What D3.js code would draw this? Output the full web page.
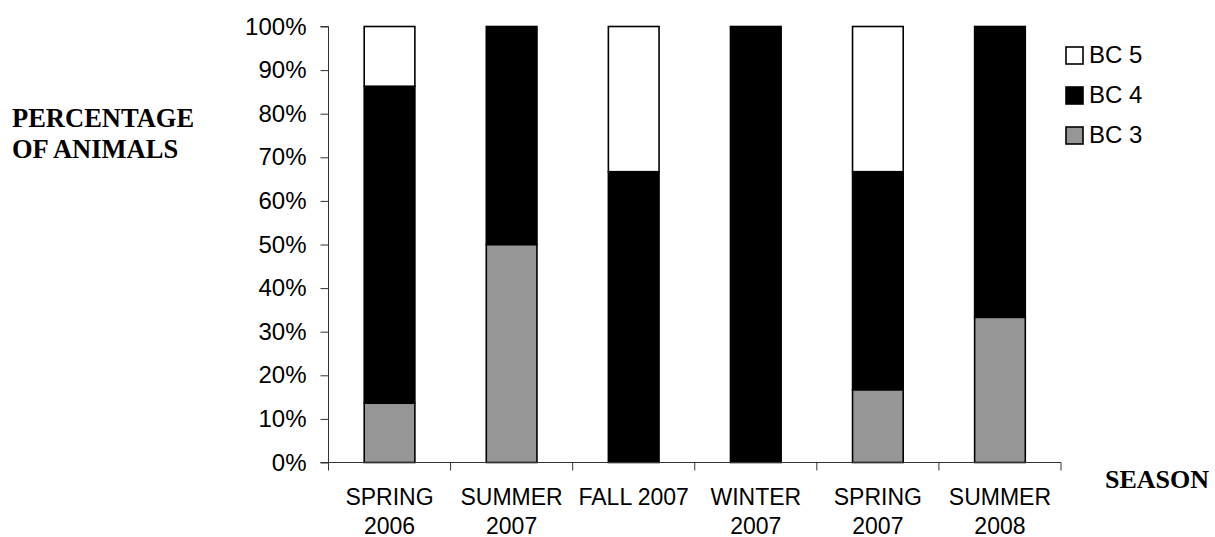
<!DOCTYPE html>
<html>
<head>
<meta charset="utf-8">
<script src="https://cdn.jsdelivr.net/npm/d3@7"></script>
<style>
  html, body { margin: 0; padding: 0; background: #fff; }
  svg { display: block; }
</style>
</head>
<body>
<svg id="chart" width="1215" height="537"></svg>
<script>
// Seasons (two-line labels) and body-condition shares in percent
const seasons = ["SPRING 2006", "SUMMER 2007", "FALL 2007", "WINTER 2007", "SPRING 2007", "SUMMER 2008"];
const seasonLines = [["SPRING", "2006"], ["SUMMER", "2007"], ["FALL 2007"], ["WINTER", "2007"], ["SPRING", "2007"], ["SUMMER", "2008"]];
const bc3 = [13.6, 50, 0, 0, 16.7, 33.3];
const bc4 = [72.7, 50, 66.7, 100, 50, 66.7];
const bc5 = [13.7, 0, 33.3, 0, 33.3, 0];
const seriesNames = ["BC 3", "BC 4", "BC 5"];
const seriesColors = ["#969696", "#000000", "#ffffff"];
const yTicks = [0, 10, 20, 30, 40, 50, 60, 70, 80, 90, 100];

const svg = d3.select("#chart");
const plotL = 328.5, plotR = 1061, plotT = 26.5, plotB = 462.5;

const x = d3.scaleBand().domain(seasons).range([plotL, plotR]).paddingInner(0).paddingOuter(0);
const y = d3.scaleLinear().domain([0, 100]).range([plotB, plotT]);

const rows = seasons.map((s, i) => ({ season: s, "BC 3": bc3[i], "BC 4": bc4[i], "BC 5": bc5[i] }));
const stacked = d3.stack().keys(seriesNames)(rows);

const barW = x.bandwidth() * 0.415;

// Stacked bars
stacked.forEach((layer, k) => {
  svg.append("g")
    .selectAll("rect")
    .data(layer.filter(d => d[1] - d[0] > 0))
    .join("rect")
    .attr("x", d => x(d.data.season) + (x.bandwidth() - barW) / 2)
    .attr("y", d => y(d[1]))
    .attr("width", barW)
    .attr("height", d => y(d[0]) - y(d[1]))
    .attr("fill", seriesColors[k])
    .attr("stroke", "#000")
    .attr("stroke-width", 1.6);
});

// Y axis
const yAxis = d3.axisLeft(y).tickValues(yTicks).tickFormat(d => d + "%").tickSize(8).tickPadding(14);
const gy = svg.append("g").attr("transform", `translate(${plotL},0)`).call(yAxis);
gy.select(".domain").attr("stroke", "#333").attr("d", `M-8,${plotT}H0V${plotB}H-8`);
gy.selectAll(".tick line").attr("stroke", "#333");
gy.selectAll(".tick text")
  .attr("font-family", "'Liberation Sans', Arial, sans-serif")
  .attr("font-size", 24).attr("fill", "#000");

// X axis (ticks at band boundaries)
const gx = svg.append("g").attr("transform", `translate(0,${plotB})`);
gx.append("line").attr("x1", plotL).attr("x2", plotR).attr("y1", 0).attr("y2", 0).attr("stroke", "#333");
const bounds = seasons.map(s => x(s)).concat([plotR]);
gx.selectAll("line.tk").data(bounds).join("line").attr("class", "tk")
  .attr("x1", d => d).attr("x2", d => d).attr("y1", 0).attr("y2", 8).attr("stroke", "#333");

// Category labels
const lab = gx.selectAll("text.cat").data(seasons).join("text").attr("class", "cat")
  .attr("x", d => x(d) + x.bandwidth() / 2)
  .attr("y", 42)
  .attr("text-anchor", "middle")
  .attr("font-family", "'Liberation Sans', Arial, sans-serif")
  .attr("font-size", 23).attr("fill", "#000");
lab.each(function (d, i) {
  const t = d3.select(this);
  seasonLines[i].forEach((ln, j) => {
    t.append("tspan").attr("x", x(d) + x.bandwidth() / 2).attr("dy", j === 0 ? 0 : 29).text(ln);
  });
});

// Axis titles
const titleFont = "'Liberation Serif', 'Times New Roman', serif";
svg.append("text").attr("x", 12).attr("y", 127)
  .attr("font-family", titleFont).attr("font-weight", "bold").attr("font-size", 26.5)
  .text("PERCENTAGE");
svg.append("text").attr("x", 12).attr("y", 158)
  .attr("font-family", titleFont).attr("font-weight", "bold").attr("font-size", 26.5)
  .text("OF ANIMALS");
svg.append("text").attr("x", 1105).attr("y", 488)
  .attr("font-family", titleFont).attr("font-weight", "bold").attr("font-size", 26)
  .text("SEASON");

// Legend (top series first)
const legendOrder = [2, 1, 0];
const lg = svg.append("g");
legendOrder.forEach((k, r) => {
  const cy = 55 + r * 40;
  lg.append("rect").attr("x", 1066).attr("y", cy - 8).attr("width", 17).attr("height", 17)
    .attr("fill", seriesColors[k]).attr("stroke", "#000").attr("stroke-width", 1.6);
  lg.append("text").attr("x", 1089).attr("y", cy).attr("dy", "0.35em")
    .attr("font-family", "'Liberation Sans', Arial, sans-serif").attr("font-size", 24)
    .text(seriesNames[k]);
});
</script>
</body>
</html>
